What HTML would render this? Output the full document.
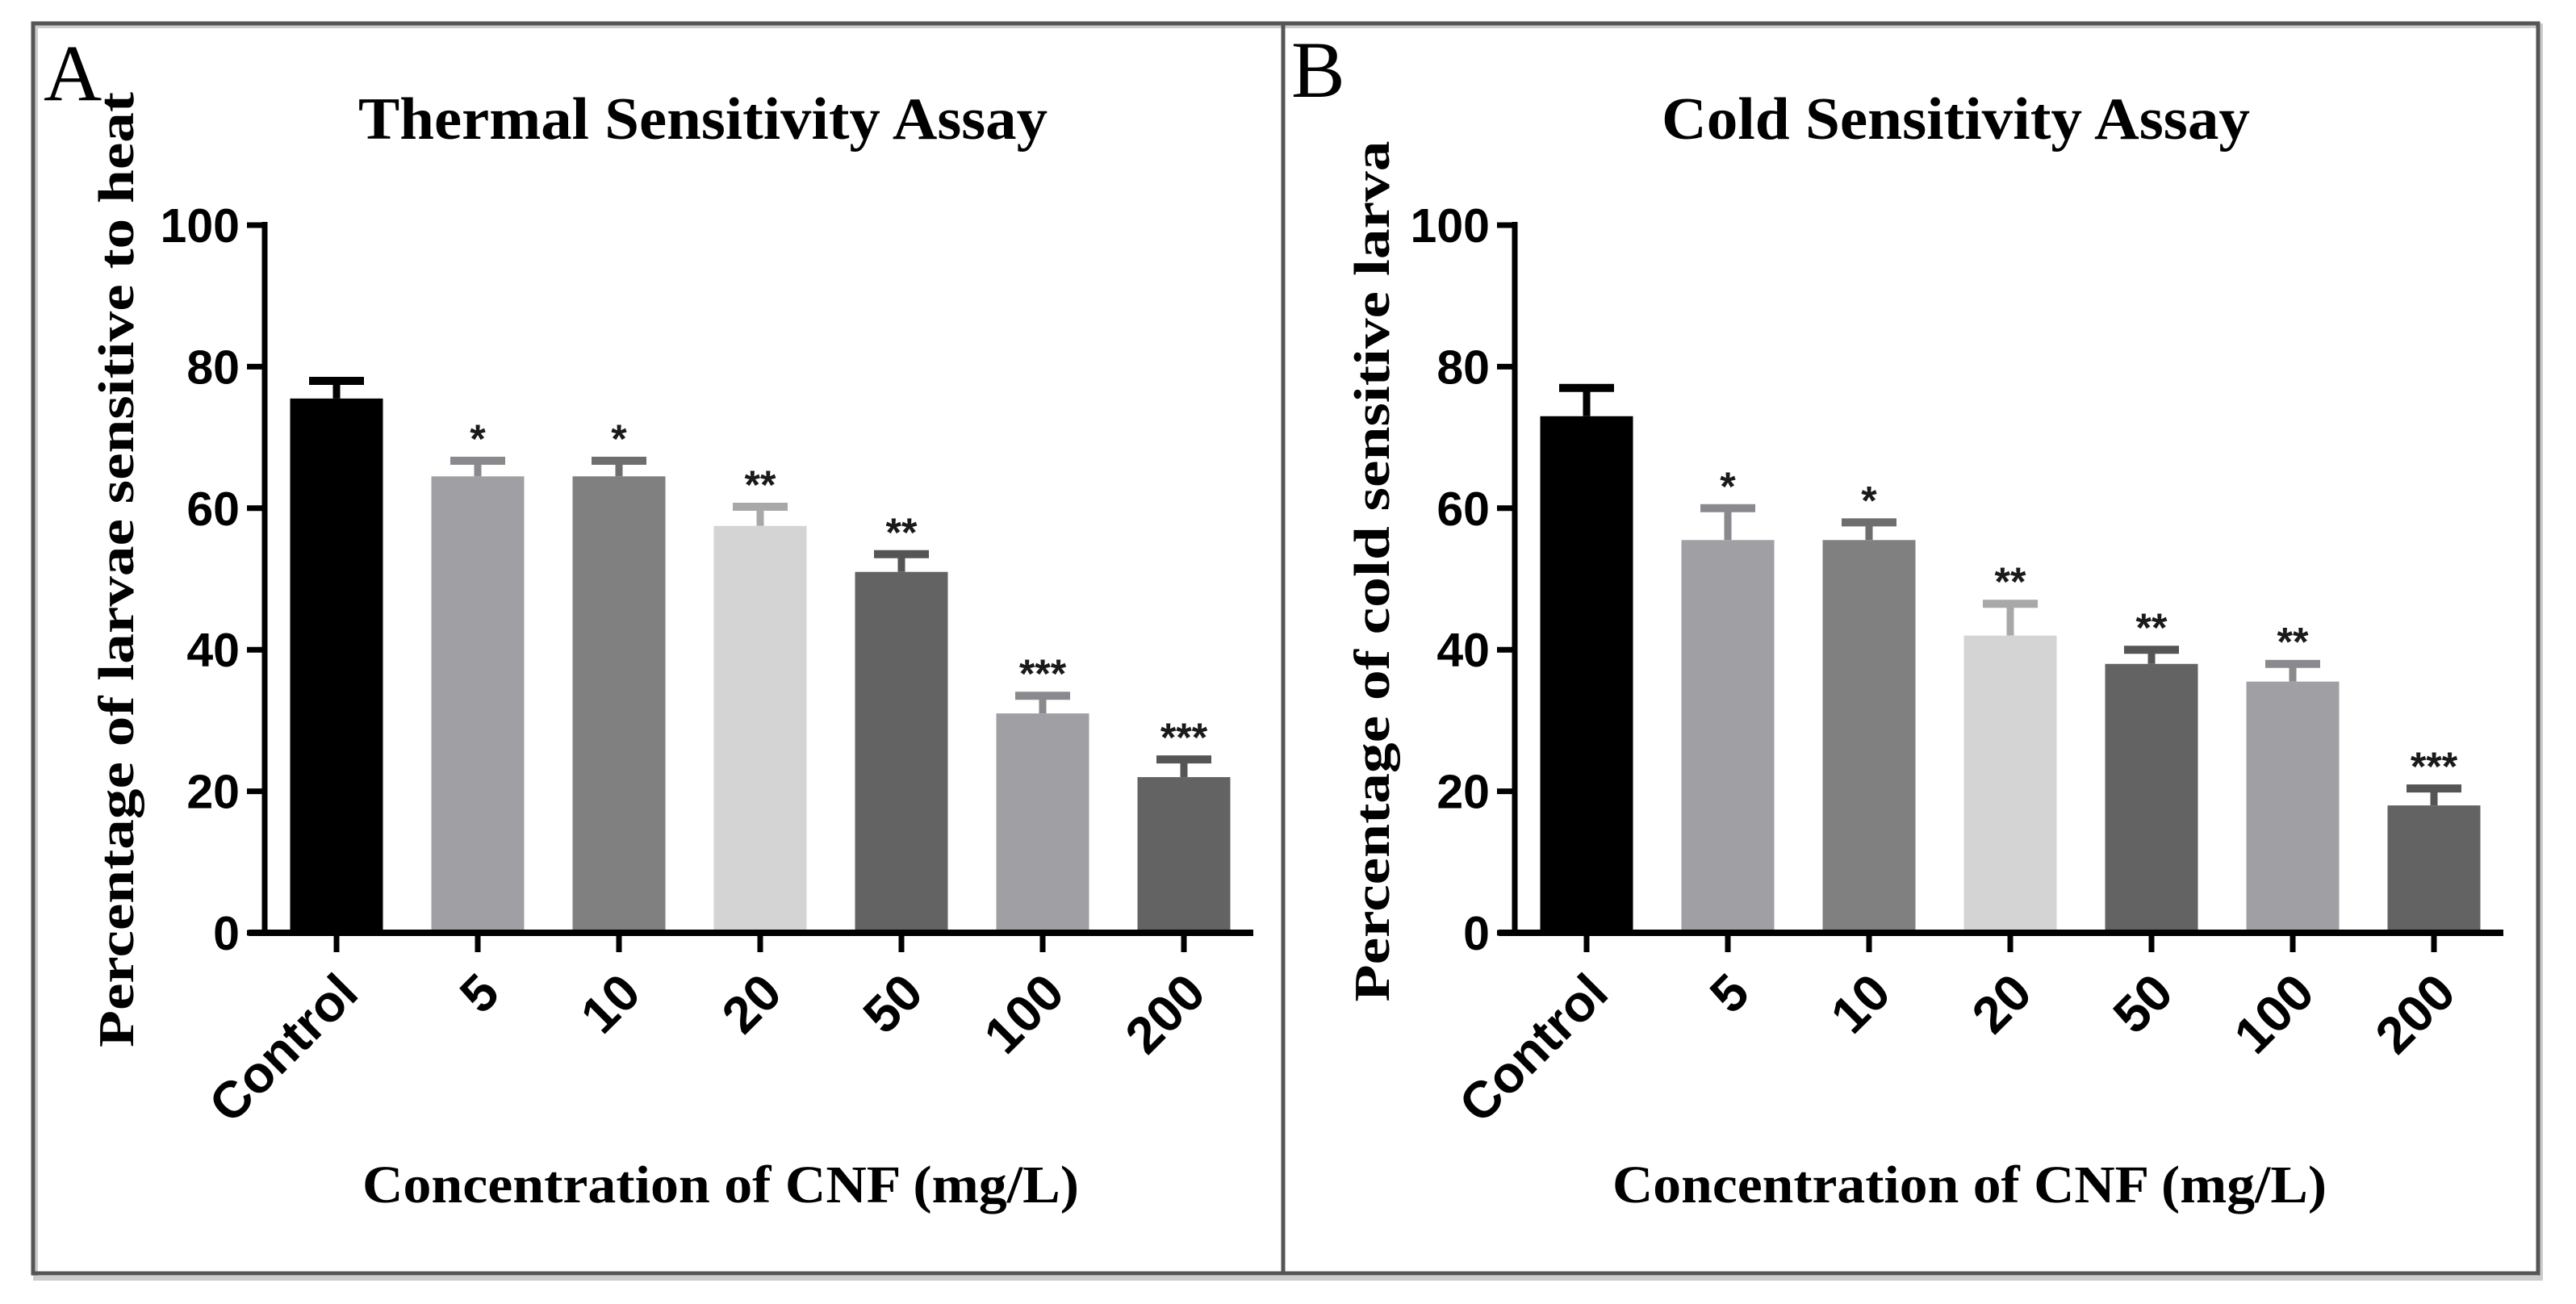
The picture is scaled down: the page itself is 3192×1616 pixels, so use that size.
<!DOCTYPE html>
<html><head><meta charset="utf-8"><style>
html,body{margin:0;padding:0;background:#fff;}
svg{display:block;}
</style></head><body>
<svg id="fig" width="3192" height="1616" viewBox="0 0 3192 1616" xmlns="http://www.w3.org/2000/svg">
<rect x="0" y="0" width="3192" height="1616" fill="#fff"/>
<g>
<rect x="44" y="32" width="3104" height="1552" fill="none" stroke="#ccc" stroke-width="6"/>
<rect x="41" y="29" width="3104" height="1549" fill="none" stroke="#555" stroke-width="5"/>
<line x1="1590" y1="29" x2="1590" y2="1578" stroke="#555" stroke-width="5"/>
</g>
<text x="54" y="124" font-family="Liberation Serif, serif" font-size="100">A</text>
<text x="1600" y="120" font-family="Liberation Serif, serif" font-size="100">B</text>
<g id="pa"></g>
<g id="pb"></g>
</svg>
<script>
const categories = ["Control","5","10","20","50","100","200"];
const yTicks = [0,20,40,60,80,100];
const heatMeans = [75.5,64.5,64.5,57.5,51,31,22];
const heatErrTop = [78,66.7,66.7,60.2,53.5,33.5,24.5];
const heatStars = ["","*","*","**","**","***","***"];
const coldMeans = [73,55.5,55.5,42,38,35.5,18];
const coldErrTop = [77,60,58,46.5,40,38,20.4];
const coldStars = ["","*","*","**","**","**","***"];
const barColors = ["#000000","#a0a0a4","#808080","#d4d4d4","#636363","#a0a0a4","#636363"];
const errColors = ["#000000","#8a8a8e","#6e6e6e","#a8a8a8","#555555","#8a8a8e","#555555"];

const NS="http://www.w3.org/2000/svg";
function mk(parent,tag,attrs,text){const e=document.createElementNS(NS,tag);for(const k in attrs)e.setAttribute(k,attrs[k]);if(text!==undefined)e.textContent=text;parent.appendChild(e);return e;}

function drawPanel(g,o){
  const y0=1156,y100=279,step=175;
  const yScale=v=>y0-(v/100)*(y0-y100);
  const xScale=i=>o.ax+89+i*step;
  const bw=115;
  categories.forEach((c,i)=>{
    const cx=xScale(i);
    const top=yScale(o.means[i]), et=yScale(o.err[i]);
    const eline=mk(g,'line',{x1:cx,x2:cx,y1:top,y2:et,stroke:errColors[i],'stroke-width':9});
    
    
    const cap=mk(g,'line',{x1:cx-34,x2:cx+34,y1:et,y2:et,stroke:errColors[i],'stroke-width':10});
    
    
    const r=mk(g,'rect',{x:cx-bw/2,y:top,width:bw,height:y0-top,fill:barColors[i]});
    
    
    if(o.stars[i]){
      const s=mk(g,'text',{x:cx,y:et-10,'text-anchor':'middle','font-family':'Liberation Sans, sans-serif','font-weight':'bold','font-size':50,fill:'#1a1a1a'},o.stars[i]);
      
      
    }
    const tk=mk(g,'line',{x1:cx,x2:cx,y1:y0,y2:y0+24,stroke:'#000','stroke-width':7});
    
    
    const lx=cx+30,ly=y0+78;
    const tl=mk(g,'text',{x:lx,y:ly,'text-anchor':'end','font-family':'Liberation Sans, sans-serif','font-weight':'bold','font-size':64,transform:`rotate(-45 ${lx} ${ly})`},c);
    
    
  });
  const ya=mk(g,'line',{x1:o.ax,x2:o.ax,y1:y100-4,y2:y0+4,stroke:'#000','stroke-width':7});
  
  
  const xa=mk(g,'line',{x1:o.ax-20,x2:o.ax+1225,y1:y0,y2:y0,stroke:'#000','stroke-width':8});
  
  
  yTicks.forEach(t=>{
    const y=yScale(t);
    const l=mk(g,'line',{x1:o.ax-22,x2:o.ax,y1:y,y2:y,stroke:'#000','stroke-width':7});
    
    
    const tx=mk(g,'text',{x:o.ax-31,y:y+21,'text-anchor':'end','font-family':'Liberation Sans, sans-serif','font-weight':'bold','font-size':59},String(t));
    
    
  });
  const ti=mk(g,'text',{x:o.tx,y:172,'font-family':'Liberation Serif, serif','font-weight':'bold','font-size':74,textLength:o.tw,lengthAdjust:'spacingAndGlyphs'},o.title);
  
  
  const xl=mk(g,'text',{x:o.xlx,y:1490,'font-family':'Liberation Serif, serif','font-weight':'bold','font-size':66,textLength:o.xlw,lengthAdjust:'spacingAndGlyphs'},'Concentration of CNF (mg/L)');
  
  
  const bx=o.ylx+22, by=o.yly;
  const yl=mk(g,'text',{x:bx,y:by,'text-anchor':'middle','font-family':'Liberation Serif, serif','font-weight':'bold','font-size':62,textLength:o.ylw,lengthAdjust:'spacingAndGlyphs',transform:`rotate(-90 ${bx} ${by})`},o.ylabel);
  
  
}
drawPanel(document.getElementById('pa'),{ax:328,means:heatMeans,err:heatErrTop,stars:heatStars,title:'Thermal Sensitivity Assay',tx:444,tw:854,xlx:449,xlw:888,ylabel:'Percentage of larvae sensitive to heat',ylx:143,yly:706,ylw:1184});
drawPanel(document.getElementById('pb'),{ax:1877,means:coldMeans,err:coldErrTop,stars:coldStars,title:'Cold Sensitivity Assay',tx:2059,tw:729,xlx:1998,xlw:885,ylabel:'Percentage of cold sensitive larva',ylx:1699,yly:708,ylw:1067});
</script>
</body></html>
